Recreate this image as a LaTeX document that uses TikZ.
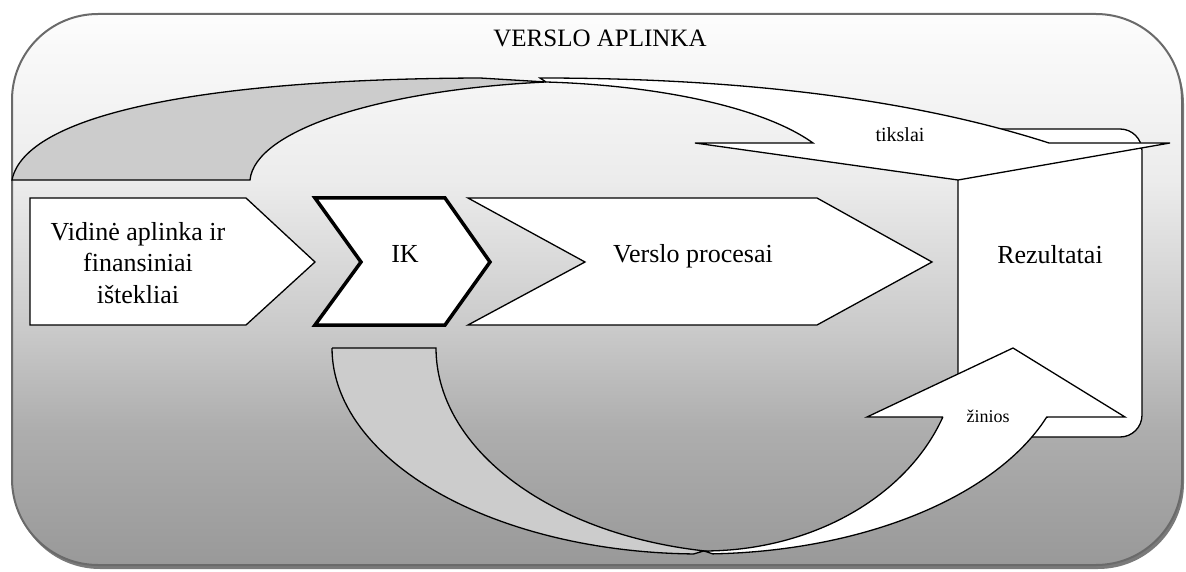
\documentclass[tikz,border=0pt]{standalone}
\usepackage{fontspec}
\setmainfont{Liberation Serif}
\definecolor{gA}{gray}{0.60}
\definecolor{gB}{gray}{0.68}
\definecolor{gC}{gray}{0.79}
\definecolor{gD}{gray}{0.925}
\definecolor{gE}{gray}{0.99}
\definecolor{bordergray}{HTML}{6A6A6A}
\definecolor{shadowgray}{HTML}{7A7A7A}
\definecolor{backgray}{HTML}{CCCCCC}
\pgfdeclareverticalshading{bgshade}{100bp}{color(0bp)=(gA); color(25bp)=(gA); color(37.25bp)=(gB); color(46.3bp)=(gC); color(59.9bp)=(gD); color(75bp)=(gE); color(100bp)=(gE)}
\tikzset{
  shapeline/.style={draw=black, line width=1.3pt, line join=miter},
  boxshape/.style={shapeline, fill=white},
  backpart/.style={shapeline, fill=backgray},
  bigtext/.style={font=\fontsize{26}{31}\selectfont, inner sep=0pt, anchor=base},
  smalltext/.style={font=\fontsize{19}{22}\selectfont, inner sep=0pt, anchor=base},
}
\begin{document}
\begin{tikzpicture}[x=1pt,y=-1pt]
\useasboundingbox (0,0) rectangle (1186,572);
% environment frame
\fill[shadowgray, rounded corners=86] (14,18) rectangle (1184,569);
\path[shading=bgshade, draw=bordergray, line width=2pt, rounded corners=86] (12,14) rectangle (1182,565);
\node[bigtext, font=\fontsize{25}{30}\selectfont] (title) at (600,47) {VERSLO APLINKA};

% process row
\path[boxshape] (30,198) -- (246,198) -- (315,262) -- (246,325) -- (30,325) -- cycle;
\node[inner sep=0pt, align=center, font=\fontsize{26}{31.5}\selectfont] (vid) at (138,263) {Vidinė aplinka ir\\finansiniai\\ištekliai};

\path[boxshape, line width=3.5pt] (315,198) -- (445,198) -- (490,262) -- (445,325) -- (315,325) -- (361,262) -- cycle;
\node[bigtext] (ik) at (405,262) {IK};

\path[boxshape] (468,198) -- (817,198) -- (932,262) -- (817,325) -- (468,325) -- (585,262) -- cycle;
\node[bigtext] (vp) at (693,262) {Verslo procesai};

\path[boxshape, rounded corners=22] (958,129) rectangle (1142,437);
\node[bigtext] (rez) at (1050,263) {Rezultatai};

% top curved arrow (tikslai)
\path[backpart] (12,180) -- (250,180) .. controls (255,130) and (380,90) .. (546,82) -- (480,78) .. controls (200,79) and (25,115) .. (12,180) -- cycle;
\path[boxshape] (540,78) .. controls (720,78) and (900,95) .. (1049,143) -- (1170,143) -- (958,180) -- (695,143) -- (813,143) .. controls (760,105) and (650,85) .. (546,82) -- cycle;
\node[smalltext, font=\fontsize{20}{24}\selectfont] (tik) at (900,142) {tikslai};

% bottom curved arrow (žinios)
\path[backpart] (332,348) -- (436,348)
  -- plot[domain=180:99.95, samples=60] ({760+324*cos(\x)},{348+206*sin(\x)})
  -- plot[domain=91:180, samples=60] ({700+368*cos(\x)},{348+206*sin(\x)}) -- cycle;
\path[boxshape] plot[domain=88:19.6, samples=60] ({700+368*cos(\x)},{348+206*sin(\x)})
  -- (1125,417) -- (1013,348) -- (867,417) -- (943,417)
  -- plot[domain=19.87:90, samples=60] ({704+254*cos(\x)},{348+203*sin(\x)}) -- cycle;
\node[smalltext, font=\fontsize{18}{22}\selectfont] (zin) at (988,422) {žinios};
\end{tikzpicture}
\end{document}
